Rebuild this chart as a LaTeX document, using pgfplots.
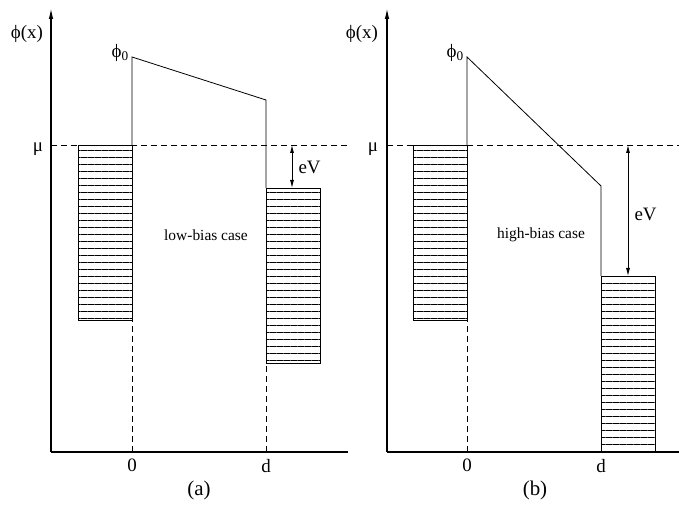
\documentclass[border=0pt]{standalone}
\usepackage{fontspec}
\setmainfont{Liberation Serif}
\usepackage{pgfplots}
\pgfplotsset{compat=1.18}
\usetikzlibrary{arrows.meta,patterns.meta}
\begin{document}
\begin{tikzpicture}[x=1bp,y=1bp]
\useasboundingbox (0,0) rectangle (679,507);
\pgfplotsset{
  diag/.style={
    x=1bp, y=1bp, anchor=origin, clip=false,
    axis lines=left,
    x axis line style={-, line width=1.3bp},
    y axis line style={-{Latex[length=11bp,width=4.5bp]}, line width=1.3bp},
    ymin=0, ymax=444,
    xtick={0,134}, xticklabels={0,d}, ytick=\empty,
    major tick length=0pt,
    tick label style={font=\fontsize{19}{22}\selectfont, yshift=-3.5bp},
    every axis plot/.append style={line width=0.8bp},
  },
  hatch/.style={draw=black, line width=0.8bp, pattern={Lines[angle=0,distance=7bp,line width=0.7bp]}},
  dashes/.style={dash pattern=on 6bp off 4bp, line width=0.7bp},
}
% ---------------- panel (a)
\begin{axis}[diag, at={(132,55)}, xmin=-81, xmax=216]
  \addplot[black, dashes] coordinates {(-81,307) (216,307)};
  \addplot[hatch] coordinates {(-54,132) (0,132) (0,307) (-54,307) (-54,132)};
  \addplot[hatch] coordinates {(134,89) (188,89) (188,264) (134,264) (134,89)};
  \addplot[black] coordinates {(0,307) (0,395) (134,352) (134,264)};
  \addplot[black, dashes] coordinates {(0,0) (0,132)};
  \addplot[black, dashes] coordinates {(134,0) (134,89)};
  \addplot[black, {Latex[length=8bp,width=4bp]}-{Latex[length=8bp,width=4bp]}] coordinates {(160,307) (160,264)};
  \node[font=\fontsize{19}{22}\selectfont, anchor=west] at (axis cs:163,285) {eV};
  \node[font=\fontsize{15.5}{18}\selectfont] at (axis cs:74,217) {low-bias case};
  \node[font=\fontsize{19}{22}\selectfont] at (axis cs:-105,418) {ϕ(x)};
  \node[font=\fontsize{19}{22}\selectfont, anchor=base east, inner sep=1bp] at (axis cs:-2,394) {ϕ\textsubscript{0}};
  \node[font=\fontsize{19}{22}\selectfont] at (axis cs:-94,303) {μ};
  \node[font=\fontsize{21}{24}\selectfont] at (axis cs:67,-38) {(a)};
\end{axis}
% ---------------- panel (b)
\begin{axis}[diag, at={(467,55)}, xmin=-80, xmax=212]
  \addplot[black, dashes] coordinates {(-80,307) (212,307)};
  \addplot[hatch] coordinates {(-54,132) (0,132) (0,307) (-54,307) (-54,132)};
  \addplot[hatch] coordinates {(134,0) (188,0) (188,176) (134,176) (134,0)};
  \addplot[black] coordinates {(0,307) (0,395) (134,266) (134,176)};
  \addplot[black, dashes] coordinates {(0,0) (0,132)};
  \addplot[black, {Latex[length=8bp,width=4bp]}-{Latex[length=8bp,width=4bp]}] coordinates {(161,307) (161,176)};
  \node[font=\fontsize{19}{22}\selectfont, anchor=west] at (axis cs:164,238) {eV};
  \node[font=\fontsize{15.5}{18}\selectfont] at (axis cs:74,217) {high-bias case};
  \node[font=\fontsize{19}{22}\selectfont] at (axis cs:-105,418) {ϕ(x)};
  \node[font=\fontsize{19}{22}\selectfont, anchor=base east, inner sep=1bp] at (axis cs:-2,394) {ϕ\textsubscript{0}};
  \node[font=\fontsize{19}{22}\selectfont] at (axis cs:-94,303) {μ};
  \node[font=\fontsize{21}{24}\selectfont] at (axis cs:68,-38) {(b)};
\end{axis}
\end{tikzpicture}
\end{document}
